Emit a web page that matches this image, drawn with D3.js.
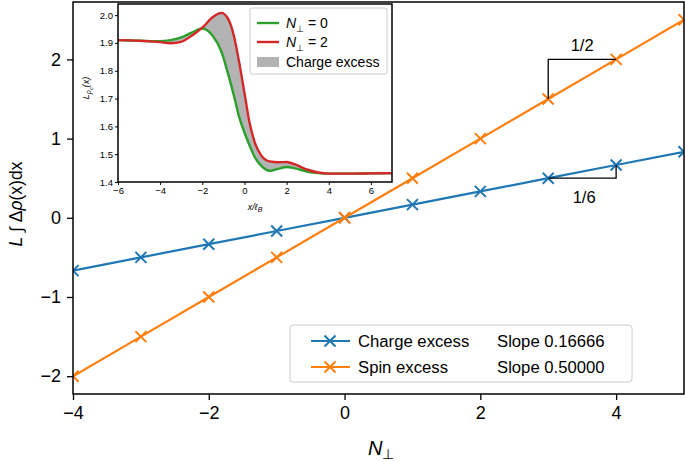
<!DOCTYPE html>
<html><head><meta charset="utf-8">
<script src="https://cdn.jsdelivr.net/npm/d3@7"></script>
<style>body{margin:0;background:#fff}svg{display:block;font-family:"Liberation Sans",Arial,sans-serif}</style>
</head><body><svg id="c" width="685" height="461"></svg>
<script>
// ---- data ----
const nPerp = [-4,-3,-2,-1,0,1,2,3,4,5];
const chargeExcess = [-0.6667,-0.5,-0.3333,-0.1667,0,0.1667,0.3333,0.5,0.6667,0.8333];
const spinExcess = [-2,-1.5,-1,-0.5,0,0.5,1,1.5,2,2.5];
const xTicks = [-4,-2,0,2,4];
const yTicks = [-2,-1,0,1,2];
const insetX = [-6,-5,-4,-3.5,-3,-2.5,-2,-1.5,-1.1,-0.8,-0.5,-0.25,0,0.25,0.5,0.8,1.2,1.6,2,2.4,3,3.5,4,5,6,7];
const insetN0 = [1.910,1.908,1.906,1.910,1.920,1.937,1.952,1.925,1.870,1.795,1.710,1.633,1.578,1.530,1.488,1.458,1.440,1.447,1.454,1.449,1.437,1.432,1.430,1.430,1.431,1.432];
const insetN2 = [1.910,1.908,1.903,1.899,1.904,1.926,1.955,1.993,2.008,1.990,1.925,1.830,1.720,1.610,1.540,1.495,1.474,1.471,1.472,1.463,1.444,1.434,1.430,1.430,1.431,1.432];
const insetXTicks = [-6,-4,-2,0,2,4,6];
const insetYTicks = [1.4,1.5,1.6,1.7,1.8,1.9,2.0];

const svg = d3.select("#c");
const BLUE="#1f77b4", ORANGE="#ff7f0e", GREEN="#2ca02c", RED="#d62728";
const fmt = d=>d<0?"\u2212"+Math.abs(d):d;

// ---- main axes ----
const L=73, R=684, T=2, B=394;
const x = d3.scaleLinear().domain([-4,5]).range([L,R]);
const y = d3.scaleLinear().domain([-2.225,2.725]).range([B,T]);

const gx = svg.append("g").attr("transform",`translate(0,${B})`)
  .call(d3.axisBottom(x).tickValues(xTicks).tickSize(6).tickPadding(6).tickFormat(fmt));
const gy = svg.append("g").attr("transform",`translate(${L},0)`)
  .call(d3.axisLeft(y).tickValues(yTicks).tickSize(6).tickPadding(6).tickFormat(fmt));
[gx,gy].forEach(g=>{g.select(".domain").remove();g.selectAll("text").attr("font-size",18).attr("fill","#000");g.selectAll("line").attr("stroke","#000").attr("stroke-width",1.3);});

const line = d3.line().x((d,i)=>x(nPerp[i])).y(d=>y(d));
svg.append("defs").append("clipPath").attr("id","mclip").append("rect").attr("x",L).attr("y",T).attr("width",R-L).attr("height",B-T);
const pg = svg.append("g").attr("clip-path","url(#mclip)");
function series(vals,color){
  pg.append("path").attr("d",line(vals)).attr("fill","none").attr("stroke",color).attr("stroke-width",2.2);
  vals.forEach((v,i)=>{
    const cx=x(nPerp[i]), cy=y(v), s=5.5;
    pg.append("path").attr("d",`M${cx-s},${cy-s}L${cx+s},${cy+s}M${cx-s},${cy+s}L${cx+s},${cy-s}`).attr("stroke",color).attr("stroke-width",2);
  });
}
series(chargeExcess,BLUE);
series(spinExcess,ORANGE);

// slope triangles
svg.append("path").attr("d",`M${x(3)},${y(spinExcess[7])}V${y(spinExcess[8])}H${x(4)}`).attr("fill","none").attr("stroke","#000").attr("stroke-width",1.3);
svg.append("path").attr("d",`M${x(3)},${y(chargeExcess[7])}H${x(4)}V${y(chargeExcess[8])}`).attr("fill","none").attr("stroke","#000").attr("stroke-width",1.3);
svg.append("text").attr("x",x(3.5)).attr("y",y(2)-8).attr("text-anchor","middle").attr("font-size",16.5).text("1/2");
svg.append("text").attr("x",x(3.5)+2).attr("y",y(0.5)+25).attr("text-anchor","middle").attr("font-size",16.5).text("1/6");

// frame
svg.append("rect").attr("x",L).attr("y",T).attr("width",R-L).attr("height",B-T).attr("fill","none").attr("stroke","#000").attr("stroke-width",1.5);

// axis labels
const xl = svg.append("text").attr("x",368).attr("y",455).attr("font-size",20);
xl.append("tspan").attr("font-style","italic").text("N");
xl.append("tspan").attr("dy",4).attr("font-size",14).text("\u22A5");
const yl = svg.append("text").attr("transform",`translate(22,204) rotate(-90)`).attr("text-anchor","middle").attr("font-size",17.5);
yl.append("tspan").attr("font-style","italic").text("L");
yl.append("tspan").text(" \u222B \u0394");
yl.append("tspan").attr("font-style","italic").text("\u03C1");
yl.append("tspan").text("(x)dx");

// legend
const lg = svg.append("g");
lg.append("rect").attr("x",290).attr("y",325).attr("width",342).attr("height",57).attr("rx",3).attr("fill","#fff").attr("stroke","#ccc").attr("stroke-width",1);
[[BLUE,"Charge excess","Slope 0.16666",341],[ORANGE,"Spin excess","Slope 0.50000",367]].forEach(([c,t,s,yy])=>{
  lg.append("line").attr("x1",311).attr("x2",350).attr("y1",yy).attr("y2",yy).attr("stroke",c).attr("stroke-width",2.2);
  lg.append("path").attr("d",`M${330-5.5},${yy-5.5}L${330+5.5},${yy+5.5}M${330-5.5},${yy+5.5}L${330+5.5},${yy-5.5}`).attr("stroke",c).attr("stroke-width",2);
  lg.append("text").attr("x",358).attr("y",yy+6).attr("font-size",16.7).text(t);
  lg.append("text").attr("x",497).attr("y",yy+6).attr("font-size",16.7).text(s);
});

// ---- inset ----
const iL=118, iR=392, iT=4, iB=182;
const ix = d3.scaleLinear().domain([-6,7]).range([iL,iR]);
const iy = d3.scaleLinear().domain([1.4,2.04]).range([iB,iT]);
svg.append("rect").attr("x",iL).attr("y",iT).attr("width",iR-iL).attr("height",iB-iT).attr("fill","#fff");
const area = d3.area().x((d,i)=>ix(insetX[i])).y0((d,i)=>iy(insetN0[i])).y1((d,i)=>iy(insetN2[i])).curve(d3.curveMonotoneX);
svg.append("path").attr("d",area(insetX)).attr("fill","#b3b3b3");
const iline = d3.line().x((d,i)=>ix(insetX[i])).y(d=>iy(d)).curve(d3.curveMonotoneX);
svg.append("path").attr("d",iline(insetN0)).attr("fill","none").attr("stroke",GREEN).attr("stroke-width",2.4);
svg.append("path").attr("d",iline(insetN2)).attr("fill","none").attr("stroke",RED).attr("stroke-width",2.4);

const igx = svg.append("g").attr("transform",`translate(0,${iB})`)
  .call(d3.axisBottom(ix).tickValues(insetXTicks).tickSize(3).tickPadding(2).tickFormat(fmt));
const igy = svg.append("g").attr("transform",`translate(${iL},0)`)
  .call(d3.axisLeft(iy).tickValues(insetYTicks).tickSize(3).tickPadding(2).tickFormat(d3.format(".1f")));
[igx,igy].forEach(g=>{g.select(".domain").remove();g.selectAll("text").attr("font-size",9.5).attr("fill","#000");g.selectAll("line").attr("stroke","#000");});
svg.append("rect").attr("x",iL).attr("y",iT).attr("width",iR-iL).attr("height",iB-iT).attr("fill","none").attr("stroke","#000").attr("stroke-width",1.5);

const ixl = svg.append("text").attr("x",ix(0.5)).attr("y",210).attr("text-anchor","middle").attr("font-size",9).attr("font-style","italic");
ixl.append("tspan").text("x/\u2113");
ixl.append("tspan").attr("dy",2).attr("font-size",7).text("B");
const iyl = svg.append("text").attr("transform",`translate(89,88) rotate(-90)`).attr("text-anchor","middle").attr("font-size",9).attr("font-style","italic");
iyl.append("tspan").text("L");
iyl.append("tspan").attr("dy",2).attr("font-size",7).text("\u03C1");
iyl.append("tspan").attr("dy",1.5).attr("font-size",5.5).text("c");
iyl.append("tspan").attr("dy",-3.5).attr("font-size",9).text("(x)");

// inset legend
const il = svg.append("g");
il.append("rect").attr("x",250).attr("y",8).attr("width",137).attr("height",66).attr("rx",2).attr("fill","#fff").attr("stroke","#ccc");
[[GREEN,"0",23],[RED,"2",42]].forEach(([c,n,yy])=>{
  il.append("line").attr("x1",257).attr("x2",279).attr("y1",yy).attr("y2",yy).attr("stroke",c).attr("stroke-width",2.4);
  const t = il.append("text").attr("x",286).attr("y",yy+5).attr("font-size",14);
  t.append("tspan").attr("font-style","italic").text("N");
  t.append("tspan").attr("dy",4).attr("font-size",9).text("\u22A5");
  t.append("tspan").attr("dy",-4).text(" = "+n);
});
il.append("rect").attr("x",257).attr("y",57).attr("width",22).attr("height",10).attr("fill","#b3b3b3");
il.append("text").attr("x",286).attr("y",67).attr("font-size",14).text("Charge excess");
</script></body></html>
